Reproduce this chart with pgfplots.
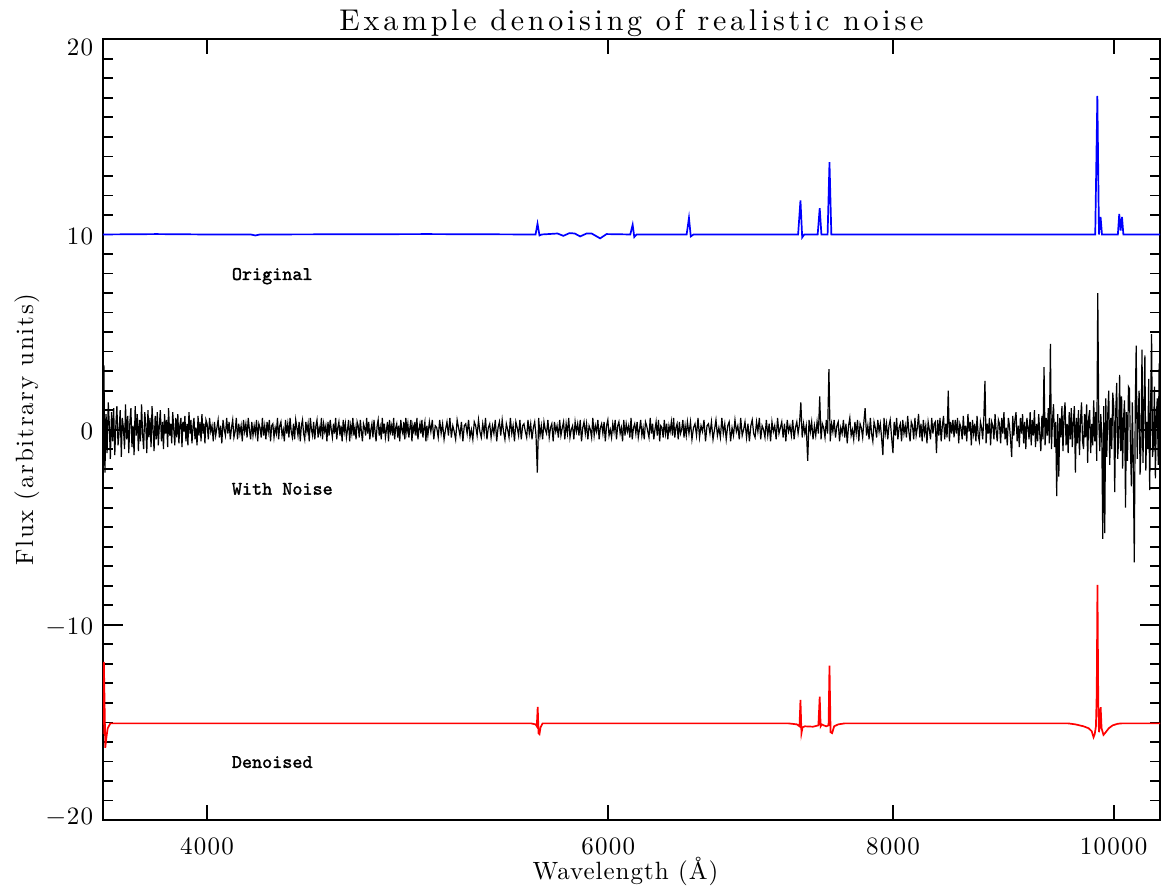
\documentclass[border=0pt]{standalone}
\usepackage{fontspec}
\usepackage{pgfplots}
\pgfplotsset{compat=1.18}
\newfontfamily\tickfont{lmroman10-regular.otf}[LetterSpace=5]
\newfontfamily\titlefont{lmroman10-regular.otf}[LetterSpace=12.5]
\newfontfamily\xlabfont{lmroman10-regular.otf}[LetterSpace=4]
\newfontfamily\ylabfont{lmroman10-regular.otf}[LetterSpace=7]
\newfontfamily\labfont{lmmono10-regular.otf}[FakeBold=1.6]
\begin{document}
\begin{tikzpicture}
\useasboundingbox (-51.35pt,-34pt) rectangle (529.15pt,410pt);
\begin{axis}[
  scale only axis, width=528.65pt, height=390.35pt,
  at={(0,0)}, anchor=south west,
  xmode=log, xmin=3600, xmax=10480, ymin=-20, ymax=20,
  xtick={4000,6000,8000,10000}, xticklabels={4000,6000,8000,10000},
  xminorticks=false,
  xtick style={draw=none},
  ytick={-20,-10,0,10,20},
  yticklabels={\raisebox{3pt}{−20},−10,0,10,\raisebox{-3.35pt}{20}},
  minor y tick num=9,
  major tick length=10pt, minor tick length=5pt,
  tick align=inside,
  ytick style={line width=0.9pt,black},
  every minor tick/.append style={line width=0.9pt,black},
  axis line style={line width=1pt},
  tick label style={font=\tickfont\fontsize{12.5}{15}\selectfont},
  xticklabel style={anchor=base, yshift=-17pt, inner sep=0pt},
  yticklabel style={anchor=base east, xshift=-4.7pt, yshift=-5pt, inner sep=0pt},
  title={Example denoising of realistic noise},
  title style={font=\titlefont\fontsize{15}{18}\selectfont, at={(axis description cs:0.5,0.99654)}, anchor=base, inner sep=0pt},
  xlabel={Wavelength (Å)},
  xlabel style={font=\xlabfont\fontsize{12.5}{15}\selectfont, at={(axis description cs:0.4943,-0.0756)}, anchor=base, inner sep=0pt},
  ylabel={Flux (arbitrary units)},
  ylabel style={font=\ylabfont\fontsize{12.5}{15}\selectfont, at={(axis description cs:-0.0658,0.5)}, anchor=base, inner sep=0pt},
]
% Original spectrum
\addplot[blue, line width=0.85pt] coordinates {
(3600,10.0)(3800,10.02)(4000,10.0)(4180,10.0)(4200,9.95)(4220,10.0)(5000,10.02)(5560,10.0)(5575,10.0)(5586,10.55)(5597,9.95)(5610,10.0)
(5700,10.05)(5734,9.93)(5770,10.07)(5800,10.05)(5832,9.9)(5870,10.05)(5900,10.05)(5951,9.8)(5990,10.02)
(6135,10.0)(6150,10.5)(6160,9.87)(6175,10.0)(6495,10.0)(6510,10.85)(6522,9.9)(6540,10.0)
(7270,10.0)(7287,11.75)(7300,9.85)(7315,10.0)(7415,10.0)(7430,11.35)(7443,10.0)(7490,10.0)(7504,13.7)(7518,10.0)
(9815,10.0)(9836,17.1)(9852,10.0)(9868,10.9)(9882,10.0)(10042,10.0)(10056,11.05)(10070,10.2)(10084,10.9)(10098,10.0)(10480,10.0)
};
% With noise
\addplot[black, line width=0.6pt] coordinates {
(3600,-0.4)(3604,3.3)(3608,-2.2)(3612,0.8)(3616,-1.2)(3620,1.4)(3624,0.2)(3628,-1.5)(3632,0.9)(3636,-0.6)
(3640,1.1)(3644,-1.3)(3648,0.3)(3652,1.2)(3656,-0.8)(3660,-0.2)(3664,1.0)(3668,-1.4)(3672,0.6)(3676,0.1)
(3680,-1.0)(3684,1.3)(3688,-0.5)(3692,0.7)(3696,-1.2)(3700,0.4)(3704,1.1)(3708,-0.9)(3712,0.2)(3716,-1.3)
(3720,1.2)(3724,-0.3)(3728,0.8)(3732,-1.1)(3736,0.5)(3740,-0.6)(3744,1.3)(3748,-0.2)(3752,-1.0)(3756,0.9)
(3760,0.3)(3764,-1.2)(3768,1.0)(3772,-0.4)(3776,0.6)(3780,-0.9)(3784,1.2)(3788,0.0)(3792,-1.1)(3796,0.7)
(3800,-0.5)(3804,0.9)(3808,-0.8)(3812,0.2)(3816,1.0)(3820,-0.6)(3824,0.4)(3828,-1.0)(3832,0.8)(3836,-0.2)
(3840,0.5)(3844,-0.9)(3848,1.1)(3852,-0.3)(3856,0.3)(3860,-0.7)(3864,0.9)(3868,0.1)(3872,-0.8)(3876,0.6)
(3880,-0.4)(3884,0.8)(3888,-0.7)(3892,0.2)(3896,0.6)(3900,-0.9)(3904,0.4)(3908,-0.1)(3912,0.7)(3916,-0.6)
(3920,0.3)(3924,-0.8)(3928,0.9)(3932,-0.2)(3936,0.5)(3940,-0.7)(3944,0.2)(3948,0.6)(3952,-0.5)(3956,0.1)
(3960,-0.8)(3964,0.7)(3968,-0.3)(3972,0.4)(3976,-0.6)(3980,0.8)(3984,-0.2)(3988,0.3)(3992,-0.7)(3996,0.5)
(4000,0.3)(4005,-0.5)(4010,0.6)(4015,-0.1)(4020,0.2)(4025,-0.6)(4030,0.4)(4035,-0.3)(4040,0.1)(4045,0.5)
(4050,-0.4)(4055,0.2)(4060,-0.7)(4065,0.5)(4070,0.0)(4075,-0.3)(4080,0.6)(4085,-0.2)(4090,0.4)(4095,-0.5)
(4100,0.1)(4105,0.5)(4110,-0.4)(4115,-0.1)(4120,0.6)(4125,-0.5)(4130,0.3)(4135,-0.2)(4140,0.2)(4145,-0.6)
(4150,0.5)(4155,-0.1)(4160,0.3)(4165,-0.4)(4170,0.6)(4175,0.0)(4180,-0.5)(4185,0.4)(4190,-0.3)(4195,0.2)
(4200,-0.2)(4205,0.5)(4210,-0.6)(4215,0.3)(4220,0.1)(4225,-0.4)(4230,0.6)(4235,-0.3)(4240,0.2)(4245,-0.5)
(4250,0.4)(4255,-0.1)(4260,0.5)(4265,-0.6)(4270,0.2)(4275,0.3)(4280,-0.4)(4285,0.1)(4290,-0.2)(4295,0.6)
(4300,-0.5)(4305,0.2)(4310,0.4)(4315,-0.3)(4320,0.0)(4325,-0.6)(4330,0.5)(4335,-0.2)(4340,0.3)(4345,-0.4)
(4350,0.6)(4355,-0.1)(4360,-0.4)(4365,0.3)(4370,-0.5)(4375,0.5)(4380,0.1)(4385,-0.3)(4390,0.4)(4395,-0.6)
(4400,0.2)(4405,0.5)(4410,-0.2)(4415,-0.5)(4420,0.4)(4425,-0.1)(4430,0.3)(4435,-0.6)(4440,0.6)(4445,0.0)
(4450,-0.3)(4455,0.4)(4460,-0.5)(4465,0.2)(4470,0.5)(4475,-0.4)(4480,0.1)(4485,-0.2)(4490,0.6)(4495,-0.5)
(4500,0.3)(4505,-0.1)(4510,0.2)(4515,-0.6)(4520,0.4)(4525,-0.3)(4530,0.5)(4535,0.0)(4540,-0.4)(4545,0.3)
(4550,-0.2)(4555,0.6)(4560,-0.5)(4565,0.1)(4570,0.4)(4575,-0.3)(4580,0.2)(4585,-0.6)(4590,0.5)(4595,-0.1)
(4600,0.3)(4605,-0.4)(4610,0.0)(4615,0.5)(4620,-0.6)(4625,0.2)(4630,-0.2)(4635,0.6)(4640,-0.3)(4645,0.1)
(4650,-0.5)(4655,0.4)(4660,0.2)(4665,-0.4)(4670,0.5)(4675,-0.1)(4680,-0.6)(4685,0.3)(4690,0.1)(4695,-0.3)
(4700,0.6)(4705,-0.2)(4710,0.4)(4715,-0.5)(4720,0.0)(4725,0.3)(4730,-0.4)(4735,0.5)(4740,-0.1)(4745,-0.6)
(4750,0.2)(4755,0.5)(4760,-0.3)(4765,0.1)(4770,-0.5)(4775,0.6)(4780,-0.2)(4785,0.3)(4790,-0.4)(4795,0.0)
(4800,0.4)(4805,-0.6)(4810,0.5)(4815,-0.1)(4820,0.2)(4825,-0.3)(4830,0.6)(4835,-0.5)(4840,0.1)(4845,0.3)
(4850,-0.4)(4855,0.2)(4860,-0.6)(4865,0.5)(4870,0.0)(4875,-0.2)(4880,0.4)(4885,-0.5)(4890,0.6)(4895,-0.1)
(4900,0.3)(4905,-0.4)(4910,0.1)(4915,0.5)(4920,-0.6)(4925,0.2)(4930,-0.1)(4935,0.4)(4940,-0.3)(4945,0.6)
(4950,-0.5)(4955,0.0)(4960,0.3)(4965,-0.2)(4970,0.5)(4975,-0.4)(4980,0.1)(4985,0.4)(4990,-0.6)(4995,0.2)
(5000,-0.3)(5007.5,0.4)(5015,-0.1)(5022.5,0.5)(5030,-0.5)(5037.5,0.2)(5045,0.1)(5052.5,-0.4)(5060,0.5)(5067.5,-0.2)
(5075,0.3)(5082.5,-0.5)(5090,0.0)(5097.5,0.4)(5105,-0.3)(5112.5,0.6)(5120,-0.4)(5127.5,0.2)(5135,-0.1)(5142.5,-0.5)
(5150,0.5)(5157.5,0.1)(5165,-0.3)(5172.5,0.4)(5180,-0.6)(5187.5,0.2)(5195,0.3)(5202.5,-0.2)(5210,0.5)(5217.5,-0.4)
(5225,0.0)(5232.5,-0.5)(5240,0.4)(5247.5,0.2)(5255,-0.3)(5262.5,0.5)(5270,-0.1)(5277.5,-0.4)(5285,0.3)(5292.5,-0.2)
(5300,0.6)(5307.5,-0.5)(5315,0.1)(5322.5,0.3)(5330,-0.4)(5337.5,0.2)(5345,-0.2)(5352.5,0.5)(5360,-0.6)(5367.5,0.1)
(5375,0.4)(5382.5,-0.3)(5390,0.5)(5397.5,-0.1)(5405,-0.5)(5412.5,0.3)(5420,0.0)(5427.5,-0.4)(5435,0.6)(5442.5,-0.2)
(5450,0.2)(5457.5,-0.6)(5465,0.4)(5472.5,0.1)(5480,-0.3)(5487.5,0.5)(5495,-0.5)(5502.5,0.2)(5510,0.3)(5517.5,-0.1)
(5525,-0.4)(5532.5,0.5)(5540,-0.2)(5547.5,0.3)(5555,-0.5)(5562.5,0.1)(5570,0.4)(5577.5,-0.3)(5585,-2.2)(5592.5,0.6)
(5600,-0.3)(5607.5,0.2)(5615,-0.5)(5622.5,0.4)(5630,0.0)(5637.5,-0.2)(5645,0.5)(5652.5,-0.4)(5660,0.1)(5667.5,0.3)
(5675,-0.6)(5682.5,0.4)(5690,-0.1)(5697.5,0.2)(5705,-0.4)(5712.5,0.5)(5720,-0.3)(5727.5,0.1)(5735,0.4)(5742.5,-0.5)
(5750,0.3)(5757.5,-0.2)(5765,0.6)(5772.5,-0.4)(5780,0.0)(5787.5,0.2)(5795,-0.5)(5802.5,0.4)(5810,-0.1)(5817.5,0.3)
(5825,-0.3)(5832.5,0.5)(5840,-0.6)(5847.5,0.1)(5855,0.4)(5862.5,-0.2)(5870,0.3)(5877.5,-0.5)(5885,0.2)(5892.5,0.0)
(5900,-0.4)(5907.5,0.6)(5915,-0.3)(5922.5,0.2)(5930,-0.1)(5937.5,0.5)(5945,-0.5)(5952.5,0.1)(5960,0.3)(5967.5,-0.2)
(5975,0.4)(5982.5,-0.6)(5990,0.2)(5997.5,0.5)(6005,-0.3)(6012.5,0.0)(6020,-0.4)(6027.5,0.3)(6035,-0.1)(6042.5,0.5)
(6050,-0.5)(6057.5,0.2)(6065,0.4)(6072.5,-0.2)(6080,0.1)(6087.5,-0.6)(6095,0.5)(6102.5,-0.3)(6110,0.3)(6117.5,-0.1)
(6125,0.2)(6132.5,-0.4)(6140,0.6)(6147.5,-0.5)(6155,0.1)(6162.5,0.3)(6170,-0.2)(6177.5,0.4)(6185,-0.4)(6192.5,0.0)
(6200,0.5)(6207.5,-0.3)(6215,0.1)(6222.5,-0.5)(6230,0.4)(6237.5,0.2)(6245,-0.1)(6252.5,-0.4)(6260,0.6)(6267.5,-0.2)
(6275,0.3)(6282.5,-0.5)(6290,0.0)(6297.5,0.4)(6305,-0.3)(6312.5,0.5)(6320,-0.6)(6327.5,0.2)(6335,0.1)(6342.5,-0.4)
(6350,0.5)(6357.5,-0.2)(6365,0.3)(6372.5,-0.5)(6380,0.2)(6387.5,-0.1)(6395,0.4)(6402.5,-0.3)(6410,0.6)(6417.5,-0.4)
(6425,0.1)(6432.5,0.3)(6440,-0.5)(6447.5,0.4)(6455,-0.2)(6462.5,0.0)(6470,0.5)(6477.5,-0.4)(6485,0.2)(6492.5,-0.3)
(6500,0.4)
(6510,-0.2)(6520,0.4)(6530,-0.5)(6540,0.1)(6550,0.3)(6560,-0.3)(6570,0.6)(6580,-0.4)(6590,0.2)(6600,-0.1)
(6610,0.5)(6620,-0.6)(6630,0.2)(6640,0.3)(6650,-0.2)(6660,0.4)(6670,-0.5)(6680,0.0)(6690,0.5)(6700,-0.3)
(6710,0.1)(6720,-0.4)(6730,0.6)(6740,-0.2)(6750,0.3)(6760,-0.5)(6770,0.2)(6780,0.4)(6790,-0.6)(6800,0.1)
(6810,-0.3)(6820,0.5)(6830,-0.1)(6840,0.2)(6850,-0.5)(6860,0.6)(6870,-0.3)(6880,0.0)(6890,0.4)(6900,-0.4)
(6910,0.3)(6920,-0.6)(6930,0.2)(6940,0.5)(6950,-0.2)(6960,-0.4)(6970,0.4)(6980,-0.1)(6990,0.6)(7000,-0.5)
(7010,0.2)(7020,0.0)(7030,-0.4)(7040,0.5)(7050,-0.3)(7060,0.3)(7070,-0.6)(7080,0.4)(7090,-0.1)(7100,0.2)
(7110,-0.5)(7120,0.6)(7130,-0.2)(7140,0.1)(7150,0.4)(7160,-0.4)(7170,0.3)(7180,-0.6)(7190,0.5)(7200,-0.1)
(7210,0.2)(7220,-0.3)(7230,0.5)(7240,-0.5)(7250,0.1)(7260,0.4)(7270,-0.2)(7280,0.3)(7290,1.4)(7300,-0.4)
(7310,0.3)(7320,-0.2)(7330,0.2)(7340,-1.6)(7350,0.5)(7360,-0.1)(7370,0.4)(7380,-0.5)(7390,0.2)(7400,-0.3)
(7410,0.4)(7420,-0.2)(7430,1.7)(7440,-0.5)(7450,0.3)(7460,0.1)(7470,-0.4)(7480,0.5)(7490,-0.2)(7500,3.1)
(7510,-0.6)(7520,0.3)(7530,-0.1)(7540,0.5)(7550,-0.4)(7560,0.2)(7570,0.4)(7580,-0.6)(7590,0.1)(7600,-0.2)
(7610,0.5)(7620,-0.4)(7630,0.3)(7640,-0.7)(7650,0.2)(7660,0.6)(7670,-0.3)(7680,0.0)(7690,-0.5)(7700,0.4)
(7710,-0.2)(7720,0.5)(7730,-0.6)(7740,0.3)(7750,0.1)(7760,-0.4)(7770,0.4)(7780,1.1)(7790,-0.3)(7800,0.2)
(7810,-0.5)(7820,0.6)(7830,-0.2)(7840,-0.6)(7850,0.4)(7860,0.1)(7870,-0.4)(7880,0.5)(7890,-0.1)(7900,0.3)
(7910,-0.4)(7920,-1.3)(7930,0.6)(7940,-0.2)(7950,0.3)(7960,-0.5)(7970,0.2)(7980,0.5)(7990,-0.3)(8000,-1.2)
(8010,0.4)(8020,-0.3)(8030,0.6)(8040,-0.5)(8050,0.1)(8060,0.3)(8070,-0.6)(8080,0.5)(8090,-0.2)(8100,0.2)
(8110,-0.4)(8120,0.7)(8130,-0.1)(8140,-0.6)(8150,0.4)(8160,0.2)(8170,-0.5)(8180,0.6)(8190,-0.3)(8200,0.1)
(8210,0.8)(8220,-0.4)(8230,0.3)(8240,-0.6)(8250,0.5)(8260,-0.2)(8270,0.2)(8280,-0.7)(8290,0.4)(8300,0.0)
(8310,-0.5)(8320,0.6)(8330,-0.2)(8340,0.3)(8350,0.4)(8360,-1.2)(8370,0.5)(8380,-0.3)(8390,0.6)(8400,-0.6)
(8410,0.2)(8420,0.7)(8430,-0.5)(8440,0.3)(8450,-0.4)(8460,2.0)(8470,-0.6)(8480,0.4)(8490,-0.2)(8500,0.5)
(8510,-0.4)(8520,0.5)(8530,-0.2)(8540,0.6)(8550,-0.7)(8560,0.3)(8570,0.1)(8580,-0.5)(8590,0.7)(8600,-0.3)
(8610,0.2)(8620,-0.6)(8630,0.8)(8640,-0.1)(8650,0.4)(8660,-0.8)(8670,0.5)(8680,-0.2)(8690,0.3)(8700,-0.6)
(8710,0.7)(8720,-0.3)(8730,-0.6)(8740,0.4)(8750,0.1)(8760,-0.5)(8770,0.6)(8780,2.5)(8790,-0.7)(8800,0.3)
(8810,-0.2)(8820,0.6)(8830,-0.8)(8840,0.4)(8850,0.2)(8860,-0.5)(8870,0.8)(8880,-0.1)(8890,-0.6)(8900,0.5)
(8910,0.3)(8920,-0.7)(8930,0.6)(8940,-0.2)(8950,0.9)(8960,-0.5)(8970,0.1)(8980,-0.8)(8990,0.6)(9000,0.2)
(9010,-0.5)(9020,-1.4)(9030,0.7)(9040,-0.3)(9050,0.5)(9060,0.9)(9070,-0.6)(9080,0.2)(9090,-0.9)(9100,0.6)
(9110,-0.2)(9120,0.8)(9130,-0.7)(9140,0.4)(9150,-1.0)(9160,0.6)(9170,0.1)(9180,-0.5)(9190,0.9)(9200,-0.8)
(9210,0.5)(9220,-0.3)(9230,1.0)(9240,-0.9)(9250,0.3)(9260,-0.6)(9270,0.8)(9280,-0.2)(9290,-1.1)(9300,0.7)
(9310,-0.5)(9320,3.2)(9330,-0.8)(9340,0.6)(9350,-0.3)(9360,1.1)(9370,-0.7)(9380,4.4)(9390,-1.0)(9400,0.5)
(9410,1.3)(9420,-0.9)(9430,0.4)(9440,-3.4)(9450,0.8)(9460,-2.4)(9470,0.6)(9480,-0.4)(9490,1.2)(9500,-1.1)
(9510,0.7)(9520,1.4)(9530,-0.8)(9540,0.3)(9550,-1.2)(9560,0.9)(9570,-0.5)(9580,1.1)(9590,-0.9)(9600,0.4)
(9610,1.2)(9620,-2.2)(9630,0.6)(9640,-0.7)(9650,1.0)(9660,-1.3)(9670,0.5)(9680,1.4)(9690,-0.6)(9700,-1.0)
(9710,0.8)(9720,-0.4)(9730,1.3)(9740,-1.7)(9750,0.6)(9760,1.0)(9770,-1.2)(9780,0.3)(9790,-0.8)(9800,1.5)
(9810,-0.6)(9820,0.9)(9830,-1.6)(9840,7.0)(9850,0.5)(9860,-1.1)(9870,0.8)(9880,-0.3)(9890,-5.6)(9900,1.2)
(9910,-5.3)(9920,1.6)(9930,-1.4)(9940,0.8)(9950,2.0)(9960,-1.8)(9970,0.6)(9980,-1.0)(9990,1.9)(10000,1.2)
(10010,-3.2)(10020,0.9)(10030,2.4)(10040,-1.5)(10050,-0.4)(10060,2.8)(10070,-1.1)(10080,1.7)(10090,-2.0)(10100,0.6)
(10110,1.5)(10120,-4.0)(10130,0.9)(10140,-1.6)(10150,2.2)(10160,2.1)(10170,-0.8)(10180,-2.9)(10190,1.4)(10200,-1.9)
(10210,-6.8)(10220,1.2)(10230,4.3)(10240,-1.5)(10250,0.6)(10260,2.0)(10270,-2.3)(10280,-0.7)(10290,4.1)(10300,-1.7)
(10310,1.1)(10320,3.8)(10330,-2.1)(10340,0.4)(10350,-1.0)(10360,2.6)(10370,-3.1)(10380,0.9)(10390,4.9)(10400,-1.4)
(10410,-0.8)(10420,2.2)(10430,-2.5)(10440,0.7)(10450,1.6)(10460,-1.8)(10470,3.4)(10480,-2.7)
};
% Denoised
\addplot[red, line width=0.85pt] coordinates {
(3600,-15.6)(3602,-13.0)(3604,-11.9)(3606,-13.5)(3609,-16.3)(3613,-15.8)(3618,-15.3)(3628,-15.05)
(5550,-15.05)(5575,-15.1)(5582,-15.2)(5587,-14.2)(5592,-15.55)(5597,-15.6)(5603,-15.25)(5615,-15.05)
(7200,-15.05)(7260,-15.1)(7280,-15.2)(7287,-13.85)(7294,-15.55)(7302,-15.25)(7320,-15.2)(7380,-15.22)
(7420,-15.15)(7430,-13.68)(7437,-15.2)(7445,-15.1)(7460,-15.15)(7480,-15.2)(7497,-15.15)(7504,-12.09)
(7512,-15.5)(7524,-15.55)(7540,-15.2)(7570,-15.1)(7620,-15.05)
(9550,-15.05)(9620,-15.1)(9700,-15.2)(9750,-15.3)(9780,-15.45)(9798,-15.76)(9810,-15.6)(9822,-15.2)
(9830,-13.5)(9837,-7.95)(9845,-14.0)(9852,-15.5)(9860,-15.2)(9869,-14.22)(9878,-15.3)(9897,-15.64)
(9920,-15.5)(9950,-15.3)(9990,-15.15)(10040,-15.07)(10080,-15.05)(10480,-15.05)
};
% x ticks (bottom and top)
\pgfplotsinvokeforeach{4000,6000,8000,10000}{
  \draw[line width=0.9pt] (axis cs:#1,-20) -- ++(0pt,7.5pt);
  \draw[line width=0.9pt] (axis cs:#1,20) -- ++(0pt,-7.5pt);
}
\node[anchor=base west, inner sep=0pt, font=\labfont\fontsize{9.6}{12}\selectfont] at (axis cs:4100,7.67) {Original};
\node[anchor=base west, inner sep=0pt, font=\labfont\fontsize{9.6}{12}\selectfont] at (axis cs:4100,-3.33) {With Noise};
\node[anchor=base west, inner sep=0pt, font=\labfont\fontsize{9.6}{12}\selectfont] at (axis cs:4100,-17.33) {Denoised};
\end{axis}
\end{tikzpicture}
\end{document}
